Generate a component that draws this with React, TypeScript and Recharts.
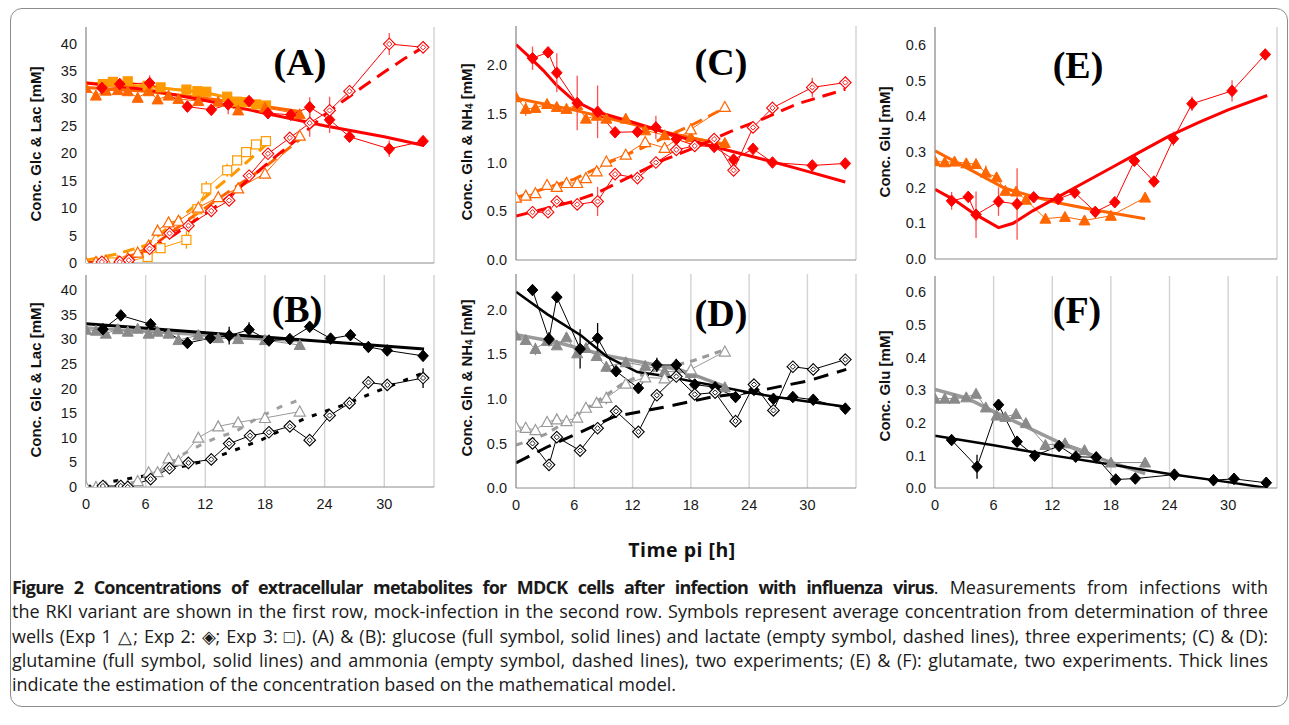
import React from "react";
import { ComposedChart, Line, XAxis, YAxis, CartesianGrid, ErrorBar } from "recharts";

const RED = "#ff0000";
const ORANGE = "#ff6600";
const AMBER = "#ff9900";
const BLACK = "#000000";
const GRAY = "#8a8a8a";

// sampling times [h p.i.]
const tExp1 = [0, 1, 2, 3.2, 4.2, 5.2, 6.3, 7.2, 8.3, 9.3, 11.3, 13.3, 15.3, 18, 21.5];
const tExp3 = [1.7, 2.7, 4.2, 6.2, 7.5, 10.1, 11.2, 12.1, 14.2, 15.2, 16.1, 17.1, 18.1];

// (A) infected: glucose / lactate
const aGlcExp1 = [31.9, 30.5, 31.4, 31.5, 31.3, 30.1, 31.3, 29.8, 30.5, 29.9, 29.5, 29.4, 27.8, 28.3, 27.1];
const aLacExp1 = [0.0, 0.2, 0.4, 0.3, 0.9, 1.9, 3.2, 5.9, 7.4, 7.7, 10.1, 12.0, 13.6, 16.3, 23.2];
const aGlcExp2T = [1.6, 3.4, 6.4, 10.2, 12.6, 14.3, 16.4, 18.3, 20.6, 22.5, 24.5, 26.5, 30.5, 33.9];
const aGlcExp2 = [31.9, 32.6, 32.8, 28.5, 27.9, 28.9, 29.5, 27.3, 27.0, 28.4, 26.1, 23.0, 20.8, 22.2];
const aGlcExp2Err = [[6.4, 1.4], [14.3, 1.8], [22.5, 1.8], [24.5, 2.4], [30.5, 1.5]];
const aLacExp2T = [1.6, 3.4, 4.3, 6.4, 8.4, 10.3, 12.6, 14.4, 16.4, 18.3, 20.5, 22.5, 24.5, 26.5, 30.5, 33.9];
const aLacExp2 = [0.2, 0.2, 0.5, 2.6, 5.4, 6.8, 9.5, 11.4, 15.9, 19.9, 22.8, 25.5, 27.8, 31.3, 39.9, 39.3];
const aLacExp2Err = [[22.5, 2.5], [24.5, 2.5], [26.5, 1.0], [30.5, 2.0]];
const aGlcExp3 = [32.6, 33.0, 33.1, 32.3, 32.0, 31.6, 31.3, 31.2, 30.3, 29.4, 29.3, 28.9, 28.7];
const aLacExp3 = [0.0, 0.1, 0.3, 1.1, 2.7, 4.2, 9.8, 13.6, 16.9, 18.7, 20.2, 21.6, 22.2];
const aLacExp3Err = [[10.1, 1.6], [12.1, 1.3], [14.2, 1.2]];
const aFitGlcExp2 = [[0, 32.8], [6, 31.6], [12, 29.6], [18, 27.3], [24, 25.0], [30, 23.0], [34, 21.4]];
const aFitLacExp2 = [[0, 0], [3, 0.3], [5, 1.2], [7, 3.0], [9, 5.3], [11, 7.8], [13, 10.2], [15, 13], [17, 16.2], [19, 19.3], [21, 22.2], [24, 27.0], [26, 29.7], [28, 32.3], [30, 34.8], [32, 37.2], [34, 39.4]];
const aFitGlcExp1 = [[0, 32.0], [6, 31.3], [12, 30.0], [18, 28.5], [21.5, 27.6]];
const aFitLacExp1 = [[0, 0], [3, 0.6], [5, 1.6], [7, 3.5], [9, 6.2], [11, 8.8], [13, 11.3], [15, 13.8], [18, 17.5], [21.5, 22.5]];
const aFitGlcExp3 = [[0, 32.8], [6, 32.2], [12, 31.0], [18.1, 28.8]];
const aFitLacExp3 = [[0, 0.5], [3, 1.6], [6, 3.2], [9, 7.5], [11, 10.5], [13, 13.5], [15, 16.5], [18.1, 21.5]];

// (B) mock: glucose / lactate
const bGlcExp1 = [31.9, 31.7, 31.1, 32.0, 31.5, 32.1, 31.1, 31.5, 31.1, 29.8, 30.8, 30.2, 30.0, 29.8, 28.8];
const bLacExp1 = [0, 0, 0, 0, 0.3, 1.2, 3.0, 3.0, 5.8, 5.3, 10.0, 12.3, 13.1, 14.0, 15.3];
const bGlcExp2T = [1.7, 3.5, 6.5, 10.2, 12.5, 14.4, 16.4, 18.4, 20.5, 22.5, 24.6, 26.6, 28.4, 30.3, 33.9];
const bGlcExp2 = [32.0, 34.8, 33.0, 29.2, 30.2, 30.7, 31.9, 29.7, 30.0, 32.5, 30.1, 30.8, 28.4, 27.7, 26.6];
const bGlcExp2Err = [[14.4, 1.8], [16.4, 1.5]];
const bLacExp2T = [1.7, 3.5, 4.2, 6.5, 8.4, 10.3, 12.6, 14.4, 16.5, 18.4, 20.5, 22.5, 24.5, 26.5, 28.4, 30.3, 33.9];
const bLacExp2 = [0.2, 0.2, 0.0, 1.6, 3.8, 4.9, 5.6, 8.8, 10.4, 11.1, 12.3, 9.5, 14.5, 17.0, 21.2, 20.7, 22.1];
const bLacExp2Err = [[28.4, 1.3], [30.3, 1.2], [33.9, 2.0]];
const bFitGlcExp2 = [[0, 33.1], [34, 28.0]];
const bFitGlcExp1 = [[0, 32.3], [21.5, 29.6]];
const bFitLacExp2 = [[0, 0], [2, 0.9], [4, 1.6], [6, 2.3], [8, 3.4], [10, 4.3], [12, 5.3], [15, 7.5], [17.7, 9.6], [20, 11.9], [22, 13.9], [24, 15.3], [26, 16.7], [28, 18.4], [30, 20], [34, 23.2]];
const bFitLacExp1 = [[0, 0], [3, 0.3], [5, 1.0], [7, 2.6], [8.5, 4.6], [9.9, 6.8], [11.5, 8.5], [13, 9.9], [15, 11.2], [17.2, 13.9], [19.6, 16.3], [21.5, 17.7]];

// (C) infected: glutamine / ammonia
const cGlnExp1 = [1.67, 1.55, 1.56, 1.6, 1.57, 1.55, 1.59, 1.45, 1.48, 1.45, 1.45, 1.33, 1.28, 1.26, 1.2];
const cGlnExp1Err = [[1, 0.07]];
const cNh4Exp1 = [0.64, 0.66, 0.685, 0.77, 0.75, 0.79, 0.79, 0.84, 0.91, 1.01, 1.08, 1.21, 1.15, 1.34, 1.57];
const cExp2T = [1.7, 3.3, 4.2, 6.3, 8.4, 10.2, 12.5, 14.4, 16.5, 18.4, 20.4, 22.4, 24.4, 26.4, 30.5, 33.9];
const cGlnExp2 = [2.07, 2.13, 1.92, 1.61, 1.52, 1.31, 1.315, 1.36, 1.24, 1.175, 1.16, 1.03, 1.14, 1.0, 0.97, 0.99];
const cGlnExp2Err = [[1.7, 0.12], [4.2, 0.2], [6.3, 0.28], [8.4, 0.27], [14.4, 0.12], [24.4, 0.06]];
const cNh4Exp2 = [0.49, 0.49, 0.6, 0.57, 0.6, 0.88, 0.84, 1.0, 1.13, 1.17, 1.24, 0.92, 1.36, 1.56, 1.77, 1.82];
const cNh4Exp2Err = [[8.4, 0.15], [30.5, 0.1]];
const cFitGlnExp2 = [[0, 2.21], [1.4, 2.08], [2.8, 1.945], [4.2, 1.79], [5.9, 1.64], [8.3, 1.52], [11.75, 1.42], [15.2, 1.315], [18.6, 1.21], [22, 1.12], [25.5, 1.03], [28.9, 0.94], [33.9, 0.8]];
const cFitNh4Exp2 = [[0, 0.45], [5.9, 0.6], [8.3, 0.685], [11.75, 0.855], [15.2, 1.026], [18.6, 1.16], [22, 1.315], [25.5, 1.45], [28.9, 1.6], [33.9, 1.75]];
const cFitGlnExp1 = [[0, 1.66], [5.9, 1.54], [11.75, 1.4], [15.2, 1.315], [21.5, 1.18]];
const cFitNh4Exp1 = [[0, 0.64], [6, 0.83], [10, 1.02], [13, 1.15], [16, 1.29], [18, 1.38], [21.5, 1.56]];

// (D) mock: glutamine / ammonia
const dGlnExp1 = [1.71, 1.66, 1.56, 1.65, 1.6, 1.69, 1.51, 1.57, 1.48, 1.36, 1.41, 1.37, 1.31, 1.29, 1.13];
const dGlnExp1Err = [[1, 0.05], [2, 0.07], [9.3, 0.06]];
const dNh4Exp1 = [0.69, 0.675, 0.65, 0.74, 0.77, 0.75, 0.79, 0.9, 0.955, 1.01, 1.17, 1.24, 1.23, 1.33, 1.53];
const dNh4Exp1Err = [[9.3, 0.07]];
const dExp2T = [1.7, 3.4, 4.2, 6.6, 8.4, 10.3, 12.6, 14.5, 16.5, 18.4, 20.5, 22.6, 24.5, 26.5, 28.5, 30.6, 33.9];
const dGlnExp2 = [2.22, 1.67, 2.14, 1.56, 1.68, 1.31, 1.12, 1.38, 1.38, 1.16, 1.13, 1.02, 1.1, 1.0, 1.02, 0.99, 0.89];
const dGlnExp2Err = [[3.4, 0.08], [6.6, 0.22], [8.4, 0.17], [14.5, 0.08], [16.5, 0.07]];
const dNh4Exp2 = [0.5, 0.26, 0.57, 0.42, 0.67, 0.86, 0.63, 1.04, 1.25, 1.05, 1.07, 0.75, 1.16, 0.87, 1.36, 1.33, 1.44];
const dNh4Exp2Err = [[3.4, 0.05]];
const dFitGlnExp2 = [[0, 2.2], [3.2, 1.95], [6.7, 1.71], [9.4, 1.47], [12.5, 1.3], [15.2, 1.26], [18.4, 1.19], [20.4, 1.15], [24, 1.07], [28, 1.0], [30, 0.97], [34, 0.91]];
const dFitNh4Exp2 = [[0, 0.28], [3.2, 0.46], [6.7, 0.63], [10.1, 0.8], [13.5, 0.87], [16.3, 0.93], [20.1, 1.02], [24.5, 1.08], [30, 1.2], [34, 1.33]];
const dFitGlnExp1 = [[0, 1.72], [4, 1.64], [9.1, 1.49], [13.5, 1.4], [17, 1.32], [21.5, 1.14]];
const dFitNh4Exp1 = [[0, 0.48], [3, 0.6], [6, 0.8], [9, 1.02], [11.1, 1.18], [13.6, 1.3], [18.3, 1.43], [21.5, 1.55]];

// (E) infected: glutamate
const eGluExp1 = [0.274, 0.271, 0.273, 0.268, 0.266, 0.242, 0.229, 0.191, 0.189, 0.166, 0.113, 0.118, 0.108, 0.121, 0.172];
const eGluExp1Err = [[5.2, 0.02]];
const eExp2T = [1.7, 3.4, 4.2, 6.5, 8.4, 10.1, 12.6, 14.3, 16.4, 18.4, 20.4, 22.4, 24.4, 26.3, 30.4, 33.8];
const eGluExp2 = [0.163, 0.174, 0.124, 0.161, 0.154, 0.173, 0.168, 0.186, 0.132, 0.159, 0.275, 0.217, 0.337, 0.435, 0.471, 0.573];
const eGluExp2Err = [[1.7, 0.025], [4.2, 0.065], [6.5, 0.04], [8.4, 0.1], [16.4, 0.012], [22.4, 0.015], [24.4, 0.02], [26.3, 0.02], [30.4, 0.03]];
const eFitGluExp2 = [[0, 0.195], [2, 0.165], [4, 0.127], [6.5, 0.088], [8, 0.1], [10, 0.135], [12, 0.165], [15, 0.21], [18, 0.255], [21, 0.3], [24, 0.345], [27, 0.383], [30, 0.418], [34, 0.458]];
const eFitGluExp1 = [[0, 0.303], [4.3, 0.24], [7, 0.2], [10, 0.175], [12.8, 0.156], [16.2, 0.138], [21.5, 0.113]];

// (F) mock: glutamate
const fGluExp1 = [0.274, 0.274, 0.274, 0.278, 0.289, 0.247, 0.222, 0.218, 0.227, 0.199, 0.132, 0.137, 0.116, 0.078, 0.078];
const fExp2T = [1.7, 4.3, 6.5, 8.4, 10.2, 12.7, 14.4, 16.5, 18.5, 20.5, 24.5, 28.5, 30.6, 33.9];
const fGluExp2 = [0.147, 0.065, 0.255, 0.142, 0.099, 0.129, 0.096, 0.094, 0.026, 0.029, 0.041, 0.024, 0.028, 0.016];
const fGluExp2Err = [[4.3, 0.037]];
const fFitGluExp2 = [[0, 0.16], [6, 0.131], [12, 0.1], [18, 0.072], [24, 0.043], [30, 0.018], [34, 0.0]];
const fFitGluExp1 = [[0, 0.302], [3.2, 0.276], [6.4, 0.229], [9.3, 0.188], [12.9, 0.137], [16.3, 0.096], [21.5, 0.044]];

const xTicks = [0, 6, 12, 18, 24, 30];
const glcTicks = [0, 5, 10, 15, 20, 25, 30, 35, 40];
const glnTicks = [0, 0.5, 1.0, 1.5, 2.0];
const gluTicks = [0, 0.1, 0.2, 0.3, 0.4, 0.5, 0.6];

type Marker = "triF" | "triO" | "diaF" | "diaO" | "sqF" | "sqO";
type Pt = { t: number; v: number; e?: number };
type Series = { pts: Pt[]; color: string; width: number; dash?: string; marker?: Marker; err?: string };

const meas = (ts: number[], vs: number[], errs: number[][] = []): Pt[] =>
  ts.map((t, i) => {
    const hit = errs.find((p) => p[0] === t);
    return { t, v: vs[i], e: hit ? hit[1] : undefined };
  });
const fit = (pairs: number[][]): Pt[] => pairs.map(([t, v]) => ({ t, v }));

function marker(kind: Marker, color: string, cx: number, cy: number, key: string) {
  if (cx == null || cy == null || isNaN(cx) || isNaN(cy)) return <g key={key} />;
  switch (kind) {
    case "triF":
    case "triO":
      return (
        <path key={key} d={`M${cx},${cy - 5.5}L${cx + 5.5},${cy + 4.5}L${cx - 5.5},${cy + 4.5}Z`}
          fill={kind === "triF" ? color : "#fff"} stroke={color} strokeWidth={kind === "triF" ? 1 : 1.2} />
      );
    case "diaF":
      return <path key={key} d={`M${cx},${cy - 5.8}L${cx + 5.3},${cy}L${cx},${cy + 5.8}L${cx - 5.3},${cy}Z`} fill={color} stroke={color} />;
    case "diaO":
      return (
        <g key={key}>
          <path d={`M${cx},${cy - 5.8}L${cx + 5.8},${cy}L${cx},${cy + 5.8}L${cx - 5.8},${cy}Z`} fill="#fff" stroke={color} strokeWidth={1.1} />
          <path d={`M${cx},${cy - 2.6}L${cx + 2.6},${cy}L${cx},${cy + 2.6}L${cx - 2.6},${cy}Z`} fill="none" stroke={color} strokeWidth={0.9} />
        </g>
      );
    case "sqF":
    case "sqO":
      return <rect key={key} x={cx - 4.5} y={cy - 4.5} width={9} height={9} fill={kind === "sqF" ? color : "#fff"} stroke={color} strokeWidth={1.2} />;
  }
}

const FONT = "'Liberation Sans', Arial, sans-serif";
const YW = 52;
const MT = 8;
const MR = 6;

type Geo = { x: number; y: number; w: number; h: number };

function Panel({ g, yMax, yTicks, digits, series, xLabels }: { g: Geo; yMax: number; yTicks: number[]; digits: number; series: Series[]; xLabels: boolean }) {
  const XH = xLabels ? 34 : 10;
  return (
    <div style={{ position: "absolute", left: g.x - YW, top: g.y - MT }}>
      <ComposedChart width={YW + g.w + MR} height={MT + g.h + XH} margin={{ top: MT, right: MR, bottom: 0, left: 0 }}>
        <CartesianGrid horizontal={false} stroke="#d2d2d2" strokeWidth={1.4} />
        <XAxis type="number" dataKey="t" domain={[0, 35]} ticks={xTicks} allowDataOverflow height={XH} interval={0}
          tick={xLabels ? { fontSize: 14.5, fill: "#1a1a1a", fontFamily: FONT } : false}
          tickLine={false} tickSize={0} tickMargin={12} stroke="#8c8c8c" />
        <YAxis type="number" domain={[0, yMax]} ticks={yTicks} allowDataOverflow width={YW} interval={0}
          tick={{ fontSize: 14.5, fill: "#1a1a1a", fontFamily: FONT }} tickLine={false} tickSize={0} tickMargin={9}
          tickFormatter={(v: number) => v.toFixed(digits)} stroke="#8c8c8c" />
        {series.map((s, i) => (
          <Line key={i} data={s.pts} dataKey="v" type="linear" stroke={s.color}
            strokeWidth={s.width} strokeDasharray={s.dash} isAnimationActive={false} activeDot={false}
            dot={s.marker ? (p: any) => marker(s.marker as Marker, s.color, p.cx, p.cy, `m${i}-${p.index}`) : false}>
            {s.err ? <ErrorBar dataKey="e" width={0} stroke={s.err} strokeWidth={1.3} direction="y" /> : null}
          </Line>
        ))}
      </ComposedChart>
    </div>
  );
}

const dataLine = (pts: Pt[], color: string, m: Marker, err?: string): Series => ({ pts, color, width: 1, marker: m, err });
const fitLine = (pairs: number[][], color: string, width: number, dash?: string): Series => ({ pts: fit(pairs), color, width, dash });

const panelA: Series[] = [
  fitLine(aFitGlcExp3, AMBER, 3), fitLine(aFitLacExp3, AMBER, 3, "12 7"),
  fitLine(aFitGlcExp1, ORANGE, 3), fitLine(aFitLacExp1, ORANGE, 3, "12 7"),
  dataLine(meas(tExp3, aGlcExp3), AMBER, "sqF"),
  dataLine(meas(tExp3, aLacExp3, aLacExp3Err), AMBER, "sqO", AMBER),
  dataLine(meas(tExp1, aGlcExp1), ORANGE, "triF"),
  dataLine(meas(tExp1, aLacExp1), ORANGE, "triO"),
  fitLine(aFitGlcExp2, RED, 3), fitLine(aFitLacExp2, RED, 3, "14 8"),
  dataLine(meas(aGlcExp2T, aGlcExp2, aGlcExp2Err), RED, "diaF", "#ff5050"),
  dataLine(meas(aLacExp2T, aLacExp2, aLacExp2Err), RED, "diaO", "#ff5050"),
];

const panelB: Series[] = [
  fitLine(bFitGlcExp1, "#a0a0a0", 3), fitLine(bFitLacExp1, "#a0a0a0", 3, "6 9"),
  dataLine(meas(tExp1, bGlcExp1), GRAY, "triF"),
  dataLine(meas(tExp1, bLacExp1), "#9a9a9a", "triO"),
  fitLine(bFitGlcExp2, BLACK, 3), fitLine(bFitLacExp2, BLACK, 3, "5 9"),
  dataLine(meas(bGlcExp2T, bGlcExp2, bGlcExp2Err), BLACK, "diaF", BLACK),
  dataLine(meas(bLacExp2T, bLacExp2, bLacExp2Err), BLACK, "diaO", BLACK),
];

const panelC: Series[] = [
  fitLine(cFitGlnExp1, ORANGE, 3), fitLine(cFitNh4Exp1, ORANGE, 3, "12 7"),
  dataLine(meas(tExp1, cGlnExp1, cGlnExp1Err), ORANGE, "triF", ORANGE),
  dataLine(meas(tExp1, cNh4Exp1), ORANGE, "triO"),
  fitLine(cFitGlnExp2, RED, 3), fitLine(cFitNh4Exp2, RED, 3, "14 8"),
  dataLine(meas(cExp2T, cGlnExp2, cGlnExp2Err), RED, "diaF", "#ff5050"),
  dataLine(meas(cExp2T, cNh4Exp2, cNh4Exp2Err), RED, "diaO", "#ff5050"),
];

const panelD: Series[] = [
  fitLine(dFitGlnExp1, "#9a9a9a", 3.5), fitLine(dFitNh4Exp1, "#9a9a9a", 3, "7 6"),
  dataLine(meas(tExp1, dGlnExp1, dGlnExp1Err), GRAY, "triF", GRAY),
  dataLine(meas(tExp1, dNh4Exp1, dNh4Exp1Err), "#9a9a9a", "triO", GRAY),
  fitLine(dFitGlnExp2, BLACK, 2.5), fitLine(dFitNh4Exp2, BLACK, 3, "15 9"),
  dataLine(meas(dExp2T, dGlnExp2, dGlnExp2Err), BLACK, "diaF", BLACK),
  dataLine(meas(dExp2T, dNh4Exp2, dNh4Exp2Err), BLACK, "diaO", BLACK),
];

const panelE: Series[] = [
  fitLine(eFitGluExp1, ORANGE, 3),
  dataLine(meas(tExp1, eGluExp1, eGluExp1Err), ORANGE, "triF", ORANGE),
  fitLine(eFitGluExp2, RED, 3),
  dataLine(meas(eExp2T, eGluExp2, eGluExp2Err), RED, "diaF", "#ff5050"),
];

const panelF: Series[] = [
  fitLine(fFitGluExp1, "#9a9a9a", 3.5),
  dataLine(meas(tExp1, fGluExp1), GRAY, "triF"),
  fitLine(fFitGluExp2, BLACK, 2.5),
  dataLine(meas(fExp2T, fGluExp2, fGluExp2Err), BLACK, "diaF", BLACK),
];

const CAP = "'Open Sans', 'Noto Sans', sans-serif";

function YLabel({ x, y, nh4, text }: { x: number; y: number; nh4?: boolean; text: string }) {
  return (
    <text transform={`translate(${x},${y}) rotate(-90)`} textAnchor="middle" dominantBaseline="central"
      fontFamily={FONT} fontWeight="bold" fontSize={15} fill="#111">
      {nh4 ? (
        <>
          Conc. Gln &amp; NH<tspan fontSize={10} dy={3}>4</tspan><tspan dy={-3}> [mM]</tspan>
        </>
      ) : text}
    </text>
  );
}

function PLabel({ x, y, t }: { x: number; y: number; t: string }) {
  return (
    <text x={x} y={y} textAnchor="middle" dominantBaseline="central" fontFamily="'Liberation Serif', 'Times New Roman', serif"
      fontWeight="bold" fontSize={38} fill="#000">{t}</text>
  );
}

const captionLines = [
  "the RKI variant are shown in the first row, mock-infection in the second row. Symbols represent average concentration from determination of three",
  "wells (Exp 1 \u25B3; Exp 2: \u25C8; Exp 3: \u25A1). (A) & (B): glucose (full symbol, solid lines) and lactate (empty symbol, dashed lines), three experiments; (C) & (D):",
  "glutamine (full symbol, solid lines) and ammonia (empty symbol, dashed lines), two experiments; (E) & (F): glutamate, two experiments. Thick lines",
];

export default function App() {
  const just: React.CSSProperties = { textAlign: "justify", textAlignLast: "justify", whiteSpace: "nowrap", height: 24.3 };
  return (
    <div style={{ position: "absolute", left: 0, top: 0, width: 1289, height: 725, background: "#fff", overflow: "hidden" }}>
      <div style={{ position: "absolute", left: 10, top: 8, width: 1276, height: 697, border: "1px solid #8c8c8c", borderRadius: 12 }} />

      <Panel g={{ x: 86, y: 27, w: 348, h: 236 }} yMax={43} yTicks={glcTicks} digits={0} series={panelA} xLabels={false} />
      <Panel g={{ x: 86, y: 275, w: 348, h: 212 }} yMax={43} yTicks={glcTicks} digits={0} series={panelB} xLabels />
      <Panel g={{ x: 516, y: 26, w: 340, h: 234 }} yMax={2.4} yTicks={glnTicks} digits={1} series={panelC} xLabels={false} />
      <Panel g={{ x: 516, y: 274, w: 340, h: 214 }} yMax={2.4} yTicks={glnTicks} digits={1} series={panelD} xLabels />
      <Panel g={{ x: 935, y: 27, w: 342, h: 232 }} yMax={0.65} yTicks={gluTicks} digits={1} series={panelE} xLabels={false} />
      <Panel g={{ x: 935, y: 276, w: 342, h: 212 }} yMax={0.65} yTicks={gluTicks} digits={1} series={panelF} xLabels />

      <svg width={1289} height={725} style={{ position: "absolute", left: 0, top: 0, pointerEvents: "none" }}>
        <YLabel x={35} y={144} text="Conc. Glc & Lac [mM]" />
        <YLabel x={35} y={380} text="Conc. Glc & Lac [mM]" />
        <YLabel x={466} y={142} nh4 text="" />
        <YLabel x={466} y={378} nh4 text="" />
        <YLabel x={884} y={142} text="Conc. Glu [mM]" />
        <YLabel x={884} y={386} text="Conc. Glu [mM]" />
        <PLabel x={300} y={62} t="(A)" />
        <PLabel x={297} y={309} t="(B)" />
        <PLabel x={721} y={62} t="(C)" />
        <PLabel x={721} y={313} t="(D)" />
        <PLabel x={1078} y={65} t="(E)" />
        <PLabel x={1077} y={310} t="(F)" />
        <text x={682} y={549} textAnchor="middle" dominantBaseline="central" fontFamily={CAP} fontWeight="bold" fontSize={19.5}
          letterSpacing={0.5} fill="#111">
          Time pi [h]
        </text>
      </svg>

      <div style={{ position: "absolute", left: 12, top: 575, width: 1256, fontFamily: CAP, fontSize: 18, lineHeight: "24.3px", color: "#1a1a1a" }}>
        <div style={just}>
          <b style={{ letterSpacing: -0.8 }}>Figure 2 Concentrations of extracellular metabolites for MDCK cells after infection with influenza virus</b>. Measurements from infections with
        </div>
        {captionLines.map((l, i) => (
          <div key={i} style={just}>{l}</div>
        ))}
        <div style={{ whiteSpace: "nowrap" }}>indicate the estimation of the concentration based on the mathematical model.</div>
      </div>
    </div>
  );
}
